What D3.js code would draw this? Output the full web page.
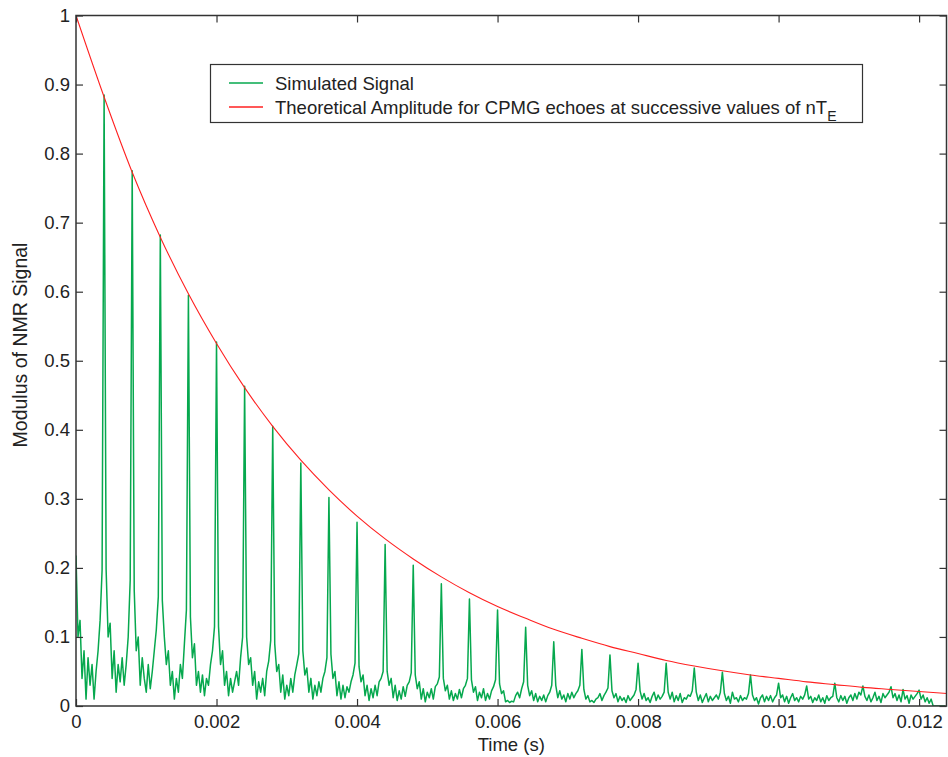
<!DOCTYPE html>
<html>
<head>
<meta charset="utf-8">
<script src="https://cdn.jsdelivr.net/npm/d3@7"></script>
<style>
    body { margin: 0; background: #fff; }
    text { font-family: "Liberation Sans", Arial, sans-serif; fill: #222; }
</style>
</head>
<body>
<svg id="chart" width="948" height="757"></svg>
<script>

// echo spacing of the CPMG train and how many samples each interval holds
const echoTime = 0.0004
const samplesPerEcho = 14

// theoretical amplitude at n*TE
const theoryTimes = [0, 0.0004, 0.0008, 0.0012, 0.0016, 0.002, 0.0024, 0.0028, 0.0032, 0.0036,
                     0.004, 0.0044, 0.0048, 0.0052, 0.0056, 0.006, 0.0064, 0.0068, 0.0072, 0.0076,
                     0.008, 0.0084, 0.0088, 0.0092, 0.0096, 0.01, 0.0104, 0.0108, 0.0112, 0.0116,
                     0.012, 0.0124]
const theoryAmp = [1.0, 0.882, 0.773, 0.679, 0.597, 0.525, 0.461, 0.405, 0.356, 0.313,
                   0.275, 0.242, 0.213, 0.187, 0.164, 0.144, 0.127, 0.111, 0.098, 0.086,
                   0.076, 0.066, 0.058, 0.051, 0.045, 0.040, 0.035, 0.031, 0.027, 0.024,
                   0.021, 0.018]

// simulated signal, one row per echo interval, first value is the echo itself
const signalRows = [
    [0.218, 0.10, 0.124, 0.04, 0.08, 0.01, 0.07, 0.03, 0.06, 0.01, 0.05, 0.08, 0.124, 0.197],
    [0.885, 0.198, 0.10, 0.12, 0.04, 0.08, 0.02, 0.06, 0.035, 0.07, 0.03, 0.06, 0.10, 0.182],
    [0.775, 0.168, 0.08, 0.10, 0.03, 0.07, 0.04, 0.02, 0.06, 0.025, 0.05, 0.08, 0.11, 0.158],
    [0.682, 0.153, 0.10, 0.06, 0.08, 0.03, 0.05, 0.01, 0.04, 0.02, 0.06, 0.04, 0.09, 0.139],
    [0.595, 0.129, 0.07, 0.09, 0.03, 0.05, 0.02, 0.045, 0.015, 0.04, 0.03, 0.06, 0.08, 0.115],
    [0.527, 0.115, 0.06, 0.08, 0.03, 0.05, 0.015, 0.04, 0.02, 0.035, 0.05, 0.03, 0.07, 0.10],
    [0.463, 0.10, 0.06, 0.07, 0.03, 0.05, 0.01, 0.035, 0.02, 0.04, 0.015, 0.05, 0.065, 0.095],
    [0.405, 0.09, 0.05, 0.06, 0.02, 0.045, 0.01, 0.03, 0.015, 0.04, 0.02, 0.045, 0.06, 0.076],
    [0.352, 0.08, 0.045, 0.055, 0.02, 0.04, 0.01, 0.03, 0.015, 0.035, 0.02, 0.04, 0.05, 0.07],
    [0.302, 0.075, 0.04, 0.05, 0.015, 0.035, 0.01, 0.03, 0.012, 0.028, 0.02, 0.035, 0.045, 0.062],
    [0.266, 0.057, 0.035, 0.045, 0.015, 0.03, 0.008, 0.025, 0.012, 0.03, 0.015, 0.035, 0.04, 0.05],
    [0.234, 0.05, 0.03, 0.04, 0.012, 0.03, 0.008, 0.022, 0.01, 0.028, 0.014, 0.03, 0.035, 0.048],
    [0.204, 0.045, 0.025, 0.035, 0.01, 0.025, 0.006, 0.02, 0.012, 0.025, 0.01, 0.028, 0.032, 0.042],
    [0.177, 0.04, 0.022, 0.03, 0.01, 0.022, 0.008, 0.018, 0.01, 0.024, 0.012, 0.025, 0.03, 0.04],
    [0.155, 0.038, 0.02, 0.028, 0.008, 0.02, 0.012, 0.025, 0.008, 0.018, 0.01, 0.022, 0.028, 0.038],
    [0.139, 0.032, 0.018, 0.022, 0.006, 0.008, 0.005, 0.007, 0.006, 0.015, 0.02, 0.012, 0.025, 0.035],
    [0.114, 0.03, 0.015, 0.022, 0.008, 0.018, 0.006, 0.014, 0.008, 0.016, 0.006, 0.015, 0.02, 0.03],
    [0.093, 0.03, 0.012, 0.022, 0.01, 0.016, 0.006, 0.018, 0.01, 0.02, 0.012, 0.018, 0.022, 0.03],
    [0.082, 0.024, 0.01, 0.015, 0.006, 0.008, 0.005, 0.01, 0.012, 0.018, 0.008, 0.015, 0.02, 0.026],
    [0.074, 0.022, 0.012, 0.018, 0.006, 0.014, 0.008, 0.012, 0.005, 0.015, 0.008, 0.012, 0.016, 0.024],
    [0.062, 0.022, 0.01, 0.018, 0.008, 0.012, 0.005, 0.014, 0.02, 0.008, 0.016, 0.01, 0.014, 0.02],
    [0.062, 0.02, 0.01, 0.02, 0.006, 0.015, 0.008, 0.018, 0.005, 0.012, 0.01, 0.016, 0.014, 0.022],
    [0.055, 0.02, 0.008, 0.016, 0.005, 0.012, 0.018, 0.006, 0.014, 0.008, 0.012, 0.016, 0.01, 0.02],
    [0.049, 0.018, 0.008, 0.014, 0.004, 0.02, 0.01, 0.012, 0.006, 0.015, 0.008, 0.012, 0.01, 0.018],
    [0.045, 0.016, 0.008, 0.012, 0.003, 0.012, 0.016, 0.006, 0.014, 0.008, 0.015, 0.006, 0.012, 0.016],
    [0.033, 0.012, 0.016, 0.006, 0.014, 0.004, 0.012, 0.018, 0.008, 0.012, 0.006, 0.014, 0.01, 0.016],
    [0.029, 0.01, 0.014, 0.005, 0.012, 0.008, 0.016, 0.006, 0.012, 0.004, 0.015, 0.008, 0.012, 0.014],
    [0.033, 0.012, 0.006, 0.015, 0.008, 0.014, 0.004, 0.012, 0.016, 0.008, 0.018, 0.01, 0.02, 0.016],
    [0.029, 0.014, 0.008, 0.016, 0.006, 0.012, 0.02, 0.008, 0.014, 0.005, 0.018, 0.012, 0.016, 0.02],
    [0.028, 0.012, 0.018, 0.008, 0.016, 0.006, 0.024, 0.01, 0.015, 0.004, 0.016, 0.01, 0.014, 0.018],
    [0.023, 0.01, 0.016, 0.006, 0.012, 0.004, 0.01, 0, 0, 0, 0, 0, 0, 0]
]

const xTicks = [0, 0.002, 0.004, 0.006, 0.008, 0.01, 0.012]
const xTickLabels = ["0", "0.002", "0.004", "0.006", "0.008", "0.01", "0.012"]
const yTicks = [0, 0.1, 0.2, 0.3, 0.4, 0.5, 0.6, 0.7, 0.8, 0.9, 1]
const yTickLabels = ["0", "0.1", "0.2", "0.3", "0.4", "0.5", "0.6", "0.7", "0.8", "0.9", "1"]

const legendItems = [
    {label: "Simulated Signal", color: "#06a84e"},
    {label: "Theoretical Amplitude for CPMG echoes at successive values of nT", sub: "E", color: "#ff2020"}
]

const plot = {left: 76, right: 946.5, top: 15.5, bottom: 706}

const svg = d3.select("#chart")

const x = d3.scaleLinear()
    .domain([0, 0.01239])
    .range([plot.left, plot.right])

const y = d3.scaleLinear()
    .domain([0, 1])
    .range([plot.bottom, plot.top])

// flatten rows into (t, value) samples
const signal = signalRows.flat().map((v, i) => ({t: i * echoTime / samplesPerEcho, v: v}))
const theory = theoryTimes.map((t, i) => ({t: t, v: theoryAmp[i]}))

svg.append("defs")
   .append("clipPath")
   .attr("id", "plot-clip")
   .append("rect")
   .attr("x", plot.left)
   .attr("y", plot.top)
   .attr("width", plot.right - plot.left)
   .attr("height", plot.bottom - plot.top)

svg.append("path")
   .datum(signal)
   .attr("clip-path", "url(#plot-clip)")
   .attr("fill", "none")
   .attr("stroke", legendItems[0].color)
   .attr("stroke-width", 1.5)
   .attr("stroke-linejoin", "round")
   .attr("d", d3.line().x(d => x(d.t)).y(d => y(d.v)))

svg.append("path")
   .datum(theory)
   .attr("clip-path", "url(#plot-clip)")
   .attr("fill", "none")
   .attr("stroke", legendItems[1].color)
   .attr("stroke-width", 1.1)
   .attr("d", d3.line().curve(d3.curveMonotoneX).x(d => x(d.t)).y(d => y(d.v)))

// axes, ticks point inward like MATLAB
const styleAxis = function (g) {
    g.select(".domain").remove()
    g.selectAll(".tick line").attr("stroke", "#333").attr("stroke-width", 1.2)
    g.selectAll(".tick text")
     .style("font-family", "'Liberation Sans', Arial, sans-serif")
     .style("font-size", "18.5px")
     .attr("fill", "#222")
}

svg.append("g")
   .attr("transform", "translate(0," + plot.bottom + ")")
   .call(d3.axisBottom(x).tickValues(xTicks).tickSizeInner(-7).tickSizeOuter(0).tickPadding(9)
           .tickFormat((d, i) => xTickLabels[i]))
   .call(styleAxis)

svg.append("g")
   .attr("transform", "translate(0," + plot.top + ")")
   .call(d3.axisTop(x).tickValues(xTicks).tickSizeInner(-7).tickSizeOuter(0).tickFormat(""))
   .call(styleAxis)

svg.append("g")
   .attr("transform", "translate(" + plot.left + ",0)")
   .call(d3.axisLeft(y).tickValues(yTicks).tickSizeInner(-7).tickSizeOuter(0).tickPadding(6)
           .tickFormat((d, i) => yTickLabels[i]))
   .call(styleAxis)

svg.append("g")
   .attr("transform", "translate(" + plot.right + ",0)")
   .call(d3.axisRight(y).tickValues(yTicks).tickSizeInner(-7).tickSizeOuter(0).tickFormat(""))
   .call(styleAxis)

svg.append("rect")
   .attr("x", plot.left)
   .attr("y", plot.top)
   .attr("width", plot.right - plot.left)
   .attr("height", plot.bottom - plot.top)
   .attr("fill", "none")
   .attr("stroke", "#333")
   .attr("stroke-width", 1.5)

// axis titles
svg.append("text")
   .attr("x", (plot.left + plot.right) / 2)
   .attr("y", 751)
   .attr("text-anchor", "middle")
   .style("font-size", "18.5px")
   .text("Time (s)")

svg.append("text")
   .attr("transform", "translate(27,345) rotate(-90)")
   .attr("text-anchor", "middle")
   .style("font-size", "19.5px")
   .text("Modulus of NMR Signal")

// legend
const legend = svg.append("g")
    .attr("class", "legend")

legend.append("rect")
      .attr("x", 210.5)
      .attr("y", 64.5)
      .attr("width", 652)
      .attr("height", 58)
      .attr("fill", "#fff")
      .attr("stroke", "#333")
      .attr("stroke-width", 1.2)

legend.selectAll("g.entry")
      .data(legendItems)
      .enter()
      .append("g")
      .attr("class", "entry")
      .attr("transform", (d, i) => "translate(0," + (83 + i * 24) + ")")
      .each(function (d) {
          d3.select(this)
            .append("line")
            .attr("x1", 229)
            .attr("x2", 263)
            .attr("stroke", d.color)
            .attr("stroke-width", 1.3)

          let label = d3.select(this)
            .append("text")
            .attr("x", 275)
            .attr("y", 6.5)
            .style("font-size", "18.5px")
            .text(d.label)

          if (d.sub) {
              label.append("tspan")
                   .attr("dy", 7)
                   .style("font-size", "14px")
                   .text(d.sub)
          }
      })

</script>
</body>
</html>
